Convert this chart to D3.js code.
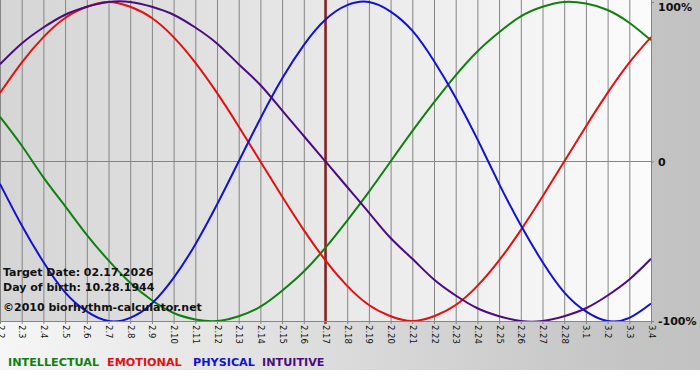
<!DOCTYPE html>
<html>
<head>
<meta charset="utf-8">
<script src="https://cdn.jsdelivr.net/npm/d3@7"></script>
<style>
  body { margin: 0; background: #fff; }
  svg { display: block; font-family: "DejaVu Sans", Verdana, sans-serif; }
</style>
</head>
<body>
<div id="chart"></div>
<script>
// day labels (month.day)
const days = ['2.2','2.3','2.4','2.5','2.6','2.7','2.8','2.9','2.10','2.11','2.12','2.13','2.14','2.15','2.16',
  '2.17','2.18','2.19','2.20','2.21','2.22','2.23','2.24','2.25','2.26','2.27','2.28','3.1','3.2','3.3','3.4'];

// cycle values per day, -1..1
const intellectual = [0.28, 0.10, -0.10, -0.28, -0.46, -0.62, -0.76, -0.87, -0.95, -0.99, -1.00, -0.97, -0.91, -0.81, -0.69,
  -0.54, -0.37, -0.19, 0.00, 0.19, 0.37, 0.54, 0.69, 0.81, 0.91, 0.97, 1.00, 0.99, 0.95, 0.87, 0.76];
const emotional = [0.43, 0.62, 0.78, 0.90, 0.97, 1.00, 0.97, 0.90, 0.78, 0.62, 0.43, 0.22, 0.00, -0.22, -0.43,
  -0.62, -0.78, -0.90, -0.97, -1.00, -0.97, -0.90, -0.78, -0.62, -0.43, -0.22, 0.00, 0.22, 0.43, 0.62, 0.78];
const physical = [-0.14, -0.40, -0.63, -0.82, -0.94, -1.00, -0.98, -0.89, -0.73, -0.52, -0.27, 0.00, 0.27, 0.52, 0.73,
  0.89, 0.98, 1.00, 0.94, 0.82, 0.63, 0.40, 0.14, -0.14, -0.40, -0.63, -0.82, -0.94, -1.00, -0.98, -0.89];
const intuitive = [0.61, 0.74, 0.84, 0.92, 0.97, 1.00, 1.00, 0.97, 0.92, 0.84, 0.74, 0.61, 0.48, 0.32, 0.16,
  0.00, -0.16, -0.32, -0.48, -0.61, -0.74, -0.84, -0.92, -0.97, -1.00, -1.00, -0.97, -0.92, -0.84, -0.74, -0.61];

const yTicks = [1, 0, -1];
const yTickLabels = ['100%', '0', '-100%'];
const targetDay = '2.17';
const infoLines = ['Target Date: 02.17.2026', 'Day of birth: 10.28.1944'];
const copyright = '\u00a92010 biorhythm-calculator.net';

const series = [
  { name: 'INTELLECTUAL', values: intellectual, color: '#0f800f' },
  { name: 'EMOTIONAL', values: emotional, color: '#e41010' },
  { name: 'PHYSICAL', values: physical, color: '#1212d4' },
  { name: 'INTUITIVE', values: intuitive, color: '#4b0c80' }
];

const W = 700, H = 380;
const plotW = 651, plotH = 321;

const svg = d3.select('#chart').append('svg')
  .attr('width', W)
  .attr('height', H);

const defs = svg.append('defs');
const outerGrad = defs.append('linearGradient').attr('id', 'outerGrad');
outerGrad.append('stop').attr('offset', '0%').attr('stop-color', '#f6f6f6');
outerGrad.append('stop').attr('offset', '90%').attr('stop-color', '#c4c4c4');
outerGrad.append('stop').attr('offset', '100%').attr('stop-color', '#c2c2c2');
const plotGrad = defs.append('linearGradient').attr('id', 'plotGrad');
plotGrad.append('stop').attr('offset', '0%').attr('stop-color', '#d5d5d5');
plotGrad.append('stop').attr('offset', '100%').attr('stop-color', '#fbfbfb');
defs.append('clipPath').attr('id', 'plotClip')
  .append('rect').attr('width', plotW).attr('height', plotH);

// backgrounds
svg.append('rect').attr('width', W).attr('height', 370).attr('fill', 'url(#outerGrad)');
svg.append('rect').attr('width', plotW).attr('height', plotH).attr('fill', 'url(#plotGrad)');

// scales
const x = d3.scalePoint().domain(days).range([0, plotW]);
const y = d3.scaleLinear().domain([-1, 1]).range([plotH, 2]);

// vertical grid
svg.append('g')
  .attr('class', 'grid')
  .attr('transform', `translate(0,${plotH})`)
  .call(d3.axisBottom(x).tickSize(-plotH).tickFormat(''))
  .call(g => g.select('.domain').remove())
  .selectAll('line').attr('stroke', '#858585');

// zero line
svg.append('line')
  .attr('x1', 0).attr('x2', plotW)
  .attr('y1', y(0)).attr('y2', y(0))
  .attr('stroke', '#858585');

// target date marker
svg.append('line')
  .attr('x1', x(targetDay)).attr('x2', x(targetDay))
  .attr('y1', 0).attr('y2', plotH + 3)
  .attr('stroke', '#8a1e1e')
  .attr('stroke-width', 2.5);

// curves
const line = d3.line()
  .x((d, i) => x(days[i]))
  .y(d => y(d))
  .curve(d3.curveNatural);

svg.append('g').attr('clip-path', 'url(#plotClip)')
  .selectAll('path')
  .data(series)
  .enter()
  .append('path')
  .attr('d', d => line(d.values))
  .attr('fill', 'none')
  .attr('stroke', d => d.color)
  .attr('stroke-width', 2);

// x axis
const xAxis = svg.append('g')
  .attr('transform', `translate(0,${plotH})`)
  .call(d3.axisBottom(x).tickSize(3).tickSizeOuter(0));
xAxis.select('.domain').attr('stroke', '#858585');
xAxis.selectAll('line').attr('stroke', '#858585');
xAxis.selectAll('text')
  .attr('transform', 'rotate(90)')
  .attr('x', 4)
  .attr('y', 0)
  .attr('dy', '0.35em')
  .attr('text-anchor', 'start')
  .attr('fill', '#111')
  .style('font-size', '8.5px')
  .style('font-family', '"DejaVu Sans", sans-serif');

// y axis on the right
const yAxis = svg.append('g')
  .attr('transform', `translate(${plotW},0)`)
  .call(d3.axisRight(y).tickValues(yTicks).tickSize(3).tickPadding(4)
    .tickFormat((d, i) => yTickLabels[i]));
yAxis.select('.domain').attr('stroke', '#858585');
yAxis.selectAll('line').attr('stroke', '#858585');
yAxis.selectAll('text')
  .attr('fill', '#111')
  .style('font-size', '11px')
  .style('font-weight', 'bold')
  .style('font-family', '"DejaVu Sans", sans-serif')
  .attr('dy', (d, i) => i === 0 ? '0.75em' : '0.35em');

// info text
svg.selectAll('.info')
  .data(infoLines)
  .enter()
  .append('text')
  .attr('class', 'info')
  .attr('x', 3)
  .attr('y', (d, i) => 276 + i * 15)
  .attr('fill', '#111')
  .style('font-size', '11px')
  .style('font-weight', 'bold')
  .text(d => d);

svg.append('text')
  .attr('x', 3)
  .attr('y', 311)
  .attr('fill', '#111')
  .style('font-size', '11px')
  .style('font-weight', 'bold')
  .text(copyright);

// legend
const legendX = [8, 107, 193, 262];
svg.selectAll('.legend')
  .data(series)
  .enter()
  .append('text')
  .attr('class', 'legend')
  .attr('x', (d, i) => legendX[i])
  .attr('y', 366)
  .attr('fill', d => d.color)
  .style('font-size', '11.2px')
  .style('font-weight', 'bold')
  .text(d => d.name);
</script>
</body>
</html>
